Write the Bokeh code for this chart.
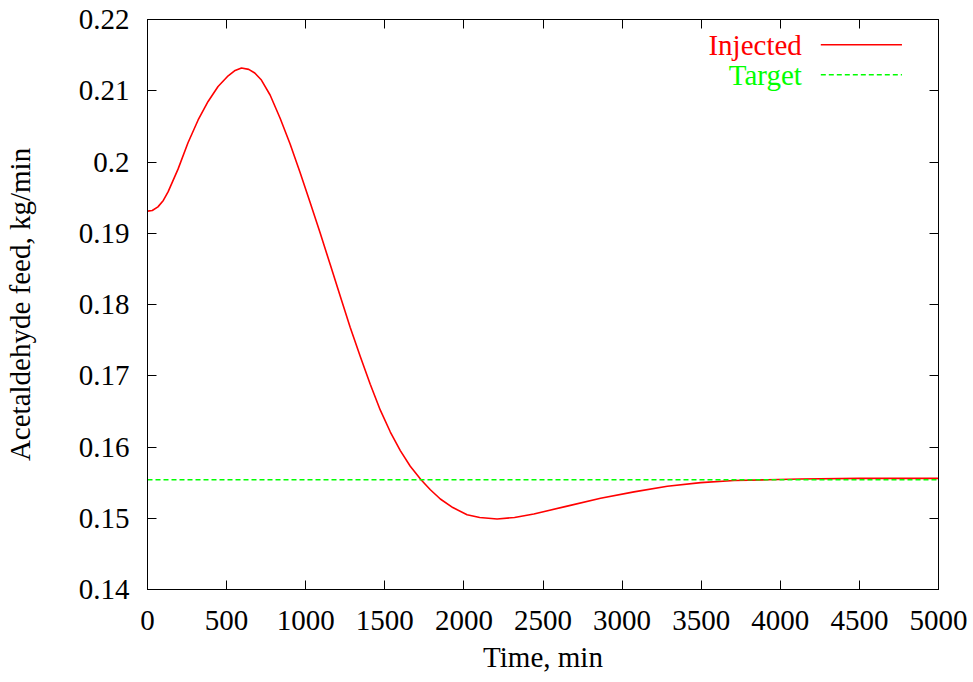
from bokeh.plotting import figure
from bokeh.models import Range1d, LinearAxis, FixedTicker, CustomJSTickFormatter, Label, Arrow
from bokeh.embed import file_html
from bokeh.resources import INLINE

# Data
time_min = [0, 30, 66, 100, 130, 193, 256, 320, 383, 446, 510, 550, 594, 640, 678, 720,
            775, 839, 902, 965, 1028, 1092, 1155, 1218, 1281, 1345, 1408, 1471, 1535,
            1598, 1661, 1729, 1788, 1851, 1930, 2020, 2100, 2210, 2320, 2442, 2653,
            2864, 3075, 3286, 3497, 3708, 3919, 4130, 4500, 5000]
injected = [0.1931, 0.1932, 0.1937, 0.1946, 0.1958, 0.1990, 0.2027, 0.2059, 0.2085,
            0.2106, 0.2121, 0.2128, 0.2132, 0.2130, 0.2125, 0.2115,
            0.2094, 0.2061, 0.2025, 0.1985, 0.1943, 0.1900, 0.1856, 0.1812, 0.1768,
            0.1727, 0.1688, 0.1652, 0.1621, 0.1595, 0.1573, 0.1554, 0.1540, 0.1527,
            0.1515, 0.1505, 0.1501, 0.1499, 0.1501, 0.1506, 0.1517, 0.1528, 0.1537,
            0.1545, 0.1550, 0.1553, 0.1554, 0.1555, 0.1556, 0.1556]
target_value = 0.1554
target_time = [0, 5000]
target = [target_value, target_value]

x_ticks = [0, 500, 1000, 1500, 2000, 2500, 3000, 3500, 4000, 4500, 5000]
y_ticks = [0.14, 0.15, 0.16, 0.17, 0.18, 0.19, 0.20, 0.21, 0.22]

FONT = "Liberation Serif"
FS = "29px"

p = figure(width=973, height=682, output_backend="svg", toolbar_location=None,
           x_range=Range1d(0, 5000), y_range=Range1d(0.14, 0.22),
           min_border_left=147, min_border_right=35, min_border_top=19, min_border_bottom=93,
           x_axis_label="Time, min", y_axis_label="Acetaldehyde feed, kg/min")
p.background_fill_color = "white"
p.border_fill_color = "white"
p.outline_line_color = "black"
p.outline_line_width = 1
p.xgrid.visible = False
p.ygrid.visible = False

p.line(time_min, injected, line_color="#ff0000", line_width=1.6, line_join="round")
p.line(target_time, target, line_color="#00ff00", line_width=1.4, line_dash="5 3")

fmt = CustomJSTickFormatter(code="return String(Math.round(tick*100)/100);")
blank = CustomJSTickFormatter(code="return '';")

bottom = p.xaxis[0]
left = p.yaxis[0]
bottom.ticker = FixedTicker(ticks=x_ticks)
left.ticker = FixedTicker(ticks=y_ticks)
left.formatter = fmt

top = LinearAxis(ticker=FixedTicker(ticks=x_ticks), formatter=blank, major_label_standoff=0)
right = LinearAxis(ticker=FixedTicker(ticks=y_ticks), formatter=blank, major_label_standoff=0)
p.add_layout(top, "above")
p.add_layout(right, "right")

for ax in [bottom, left, top, right]:
    ax.axis_line_color = "black"
    ax.axis_line_width = 1
    ax.major_tick_in = 9
    ax.major_tick_out = 0
    ax.major_tick_line_color = "black"
    ax.major_tick_line_width = 1
    ax.minor_tick_line_color = None
    ax.major_label_text_font = FONT
    ax.major_label_text_color = "black"
    ax.major_label_text_font_size = FS
    ax.axis_label_text_font = FONT
    ax.axis_label_text_font_style = "normal"
    ax.axis_label_text_color = "black"
    ax.axis_label_text_font_size = FS

bottom.major_label_standoff = 21
left.major_label_standoff = 18
bottom.axis_label_standoff = 8
left.axis_label_standoff = 40

# Legend (text to the left of the line sample, like the original)
legend_rows = [("Injected", "#ff0000", None, 0.21645), ("Target", "#00ff00", "5 3", 0.21224)]
for name, color, dash, yy in legend_rows:
    p.add_layout(Label(x=4136, y=yy, text=name, text_align="right", text_baseline="middle",
                       text_color=color, text_font=FONT, text_font_size=FS))
    arr = Arrow(x_start=4256, y_start=yy, x_end=4769, y_end=yy, start=None, end=None,
                line_color=color, line_width=1.4 if dash else 1.6)
    if dash:
        arr.line_dash = dash
    p.add_layout(arr)

open("out.html", "w").write(file_html(p, INLINE))
